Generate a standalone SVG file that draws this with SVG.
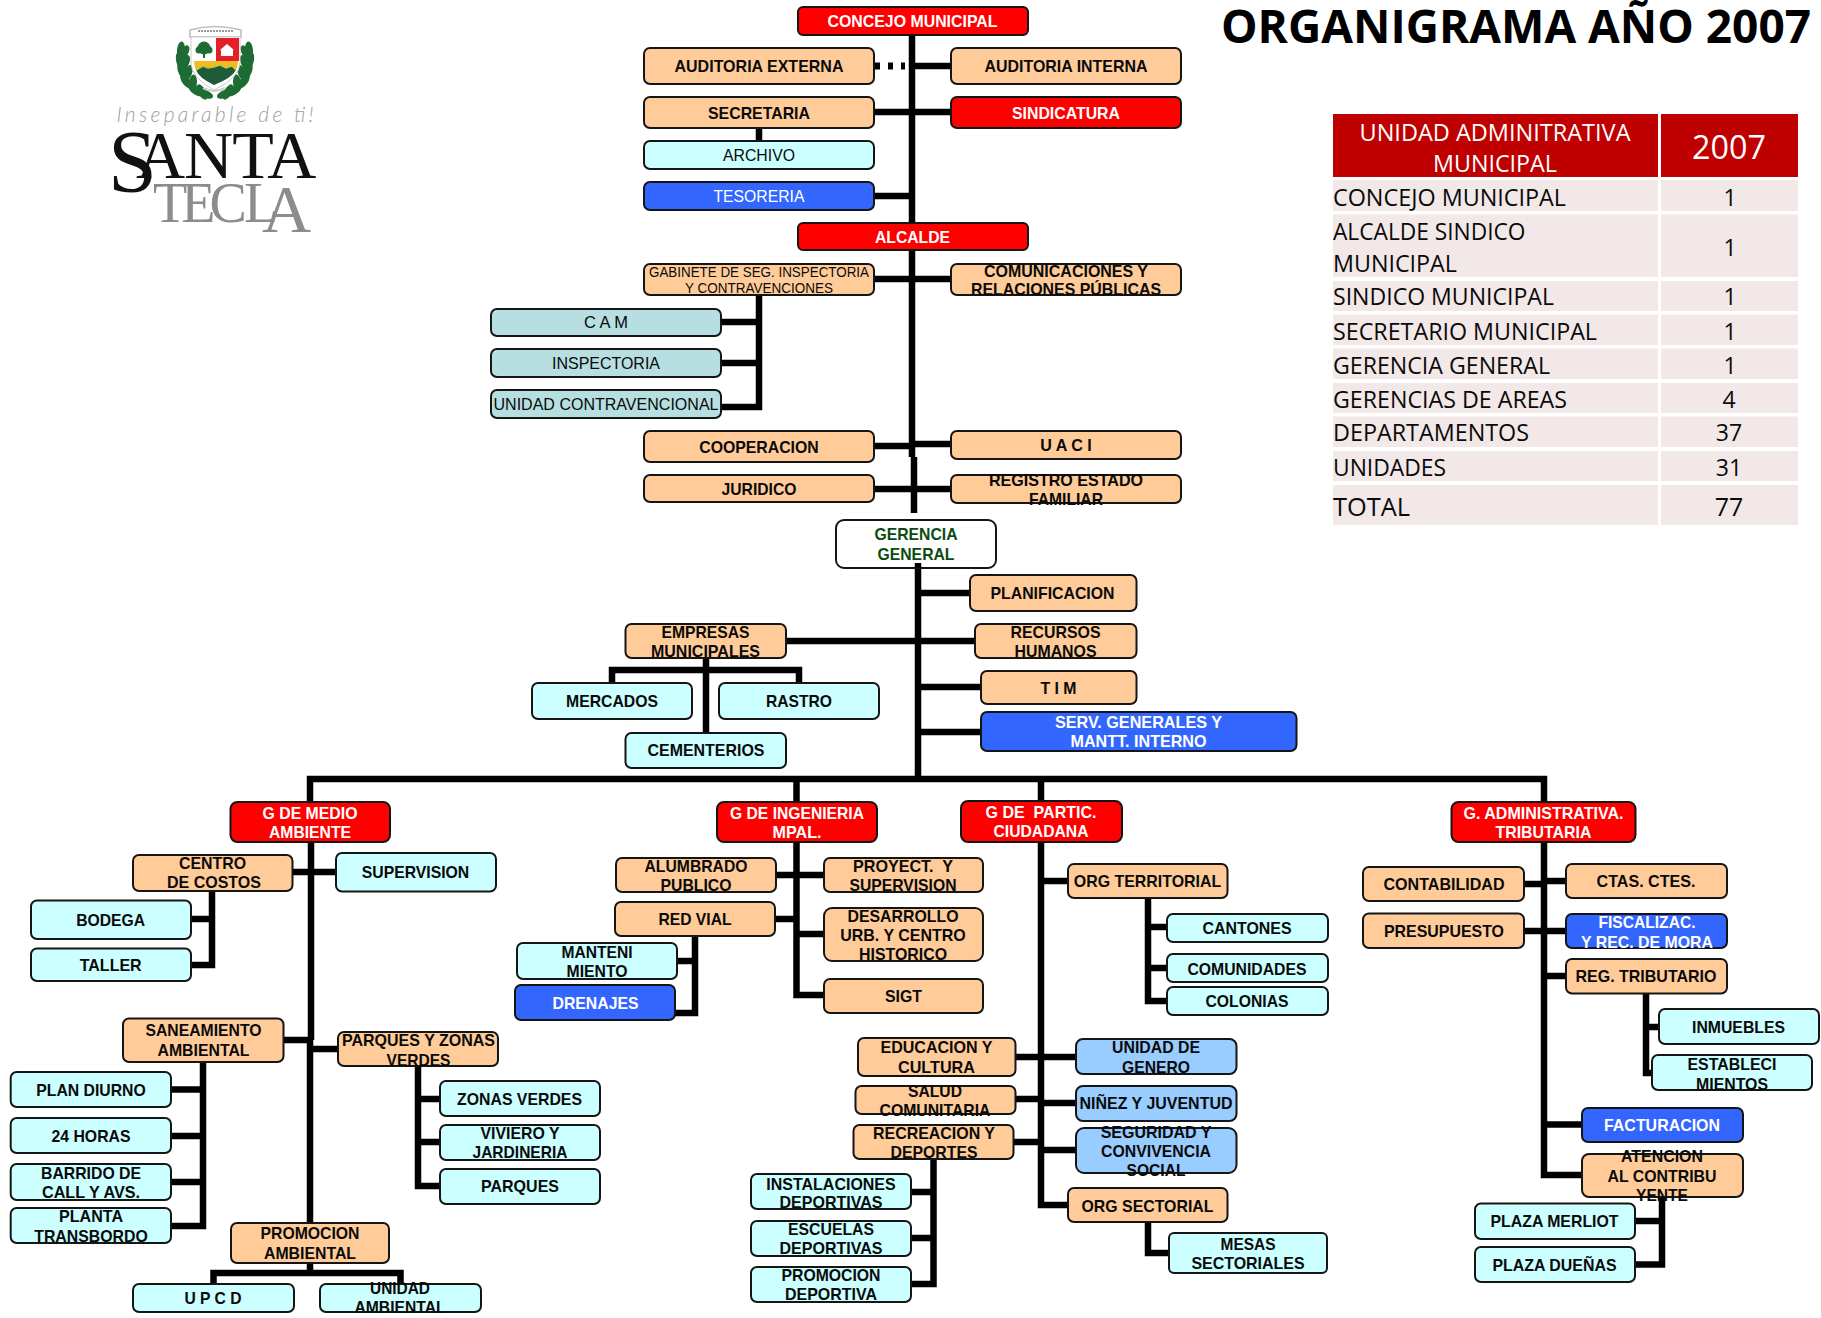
<svg xmlns="http://www.w3.org/2000/svg" width="1821" height="1318" viewBox="0 0 1821 1318">
<style>
.c{fill:none;stroke:#000;stroke-width:6.500}
.b{stroke:#151515;stroke-width:2}
.o{fill:#FFCC99}.y{fill:#CCFFFF}.u{fill:#3366FF}.d{fill:#FF0000}.g{fill:#B7DEE0}.l{fill:#99CCFF}.n{fill:#fff}
text{font-family:"Liberation Sans",Arial,sans-serif;font-size:17px;font-weight:bold;text-anchor:middle;fill:#0a0a0a}
text.w{fill:#fff}
text.r{font-weight:normal}
text.h{fill:#0B4A12}
text.k,text.kc{font-family:"Open Sans","Noto Sans",sans-serif;font-size:23px;font-weight:normal}
text.k{text-anchor:start}
text.kw{font-family:"Open Sans","Noto Sans",sans-serif;font-size:23px;font-weight:normal;fill:#fff}
.th{fill:#BF0000}.td{fill:#F2E8E8}
.lf{fill:#1E6B34}
</style>
<defs>
<ellipse id="leaf" cx="0" cy="0" rx="4" ry="8.500" class="lf"/>
</defs>
<rect width="1821" height="1318" fill="#fff"/>

<g id="connectors">
<path class="c" d="M912 35V223M912 250V457M914 457V513"/>
<path class="c" d="M914 66H951"/>
<path class="c" style="stroke-width:7;stroke-dasharray:5 8" d="M875 66H905"/>
<path class="c" d="M874 112H951"/>
<path class="c" d="M759 128V141"/>
<path class="c" d="M874 196H912"/>
<path class="c" d="M874 279H951"/>
<path class="c" d="M759 295V407H721M721 322H759M721 363H759"/>
<path class="c" d="M874 446H912M912 444H951"/>
<path class="c" d="M874 489H951"/>
<path class="c" d="M918 568V780"/>
<path class="c" d="M918 593H970"/>
<path class="c" d="M786 641H975"/>
<path class="c" d="M918 687H981"/>
<path class="c" d="M918 732H981"/>
<path class="c" d="M706 658V733"/>
<path class="c" d="M612 683V670H799V683"/>
<path class="c" d="M310 802V779H1544V802"/>
<path class="c" d="M796.500 779V802M1041 779V801"/>
<path class="c" d="M796.500 842V995H824"/>
<path class="c" d="M776 875H824"/>
<path class="c" d="M775 919H797"/>
<path class="c" d="M797 934H824"/>
<path class="c" d="M695 936V1013H675M677 961H695"/>
<path class="c" d="M1041 842V1205H1068"/>
<path class="c" d="M1041 881H1068"/>
<path class="c" d="M1148 898V1001H1167M1148 927H1168M1148 968H1168"/>
<path class="c" d="M1015 1057H1076"/>
<path class="c" d="M1015 1099H1041M1041 1103H1076"/>
<path class="c" d="M1013 1142H1041M1041 1150H1076"/>
<path class="c" d="M933.500 1159V1284H911M911 1192H933.500M911 1238H933.500"/>
<path class="c" d="M1148 1222V1253H1169"/>
<path class="c" d="M311 842V1040M310 1040V1223"/>
<path class="c" d="M292 872H336"/>
<path class="c" d="M212 891V965H191M191 919H212"/>
<path class="c" d="M283 1040H310M310 1049H338"/>
<path class="c" d="M203 1062V1226H171M171 1089.500H203M171 1136H203M171 1182H203"/>
<path class="c" d="M418 1066V1186H440M418 1099H440M418 1142H440"/>
<path class="c" d="M310 1263V1273M213.500 1284V1273H400.500V1284"/>
<path class="c" d="M1544 842V1175H1582"/>
<path class="c" d="M1524 884H1544M1544 881H1566"/>
<path class="c" d="M1524 931H1566"/>
<path class="c" d="M1544 976H1566"/>
<path class="c" d="M1544 1124.500H1582"/>
<path class="c" d="M1646 993V1073H1652M1646 1027H1659"/>
<path class="c" d="M1662 1197V1264.500H1635M1635 1221H1662"/>
</g>

<g id="logo">
<g id="crest">
<path d="M190 30Q215 23 241 30V37H190Z" fill="#fff" stroke="#bbb" stroke-width="1.500"/>
<path d="M198 31H233" stroke="#999" stroke-width="2" stroke-dasharray="2 1" fill="none"/>
<g>
<use href="#leaf" transform="translate(181,50) rotate(5)"/>
<use href="#leaf" transform="translate(184,53) rotate(30)"/>
<use href="#leaf" transform="translate(180,60) rotate(-10)"/>
<use href="#leaf" transform="translate(185,63) rotate(25)"/>
<use href="#leaf" transform="translate(182,71) rotate(-20)"/>
<use href="#leaf" transform="translate(188,73) rotate(20)"/>
<use href="#leaf" transform="translate(186,81) rotate(-35)"/>
<use href="#leaf" transform="translate(193,83) rotate(5)"/>
<use href="#leaf" transform="translate(195,90) rotate(-50)"/>
<use href="#leaf" transform="translate(202,92) rotate(-30)"/>
<use href="#leaf" transform="translate(205,94) rotate(-70)"/>
</g>
<g transform="translate(430,0) scale(-1,1)">
<use href="#leaf" transform="translate(181,50) rotate(5)"/>
<use href="#leaf" transform="translate(184,53) rotate(30)"/>
<use href="#leaf" transform="translate(180,60) rotate(-10)"/>
<use href="#leaf" transform="translate(185,63) rotate(25)"/>
<use href="#leaf" transform="translate(182,71) rotate(-20)"/>
<use href="#leaf" transform="translate(188,73) rotate(20)"/>
<use href="#leaf" transform="translate(186,81) rotate(-35)"/>
<use href="#leaf" transform="translate(193,83) rotate(5)"/>
<use href="#leaf" transform="translate(195,90) rotate(-50)"/>
<use href="#leaf" transform="translate(202,92) rotate(-30)"/>
<use href="#leaf" transform="translate(205,94) rotate(-70)"/>
</g>
<path d="M191 37H240V62Q240 78 214 90Q191 78 191 62Z" fill="#fff" stroke="#ccc" stroke-width="1"/>
<rect x="216" y="38" width="23" height="23" fill="#E3202A"/>
<path d="M220 50L227 44L234 50ZM221 50H233V56H221Z" fill="#fff"/>
<path d="M194 61H238Q238 66 236 70H196Q194 66 194 61Z" fill="#F5B921"/>
<path d="M196 70L203 66L208 68L214 67L220 65L226 68L232 66L236 70Q232 78 214 85Q199 78 196 70Z" fill="#1E5B36"/>
<path d="M196 70L203 66L208 68L214 67L220 65L226 68L232 66L236 70" fill="none" stroke="#B8C93A" stroke-width="1.500"/>
<circle cx="204" cy="48" r="6.500" class="lf"/><circle cx="199" cy="50" r="3.500" class="lf"/><circle cx="209" cy="50" r="3.500" class="lf"/>
<rect x="203" y="50" width="2" height="8" class="lf"/>
<path d="M203 88Q214 94 225 88" fill="none" stroke="#ccc" stroke-width="2"/>
</g>
<text id="lema" x="215" y="122" textLength="197" lengthAdjust="spacing" style="font-family:Lato,'Noto Sans',sans-serif;font-style:italic;font-weight:300;font-size:21px;fill:#a0a0a0">Inseparable de ti!</text>
<text id="santa" style="font-family:'Liberation Serif',serif;font-weight:normal;text-anchor:start;fill:#111"><tspan x="108" y="191" font-size="88">S</tspan><tspan x="136" y="178" font-size="68" letter-spacing="-1">ANTA</tspan></text>
<text id="tecla" style="font-family:'Liberation Serif',serif;font-weight:normal;text-anchor:start;fill:#8c8c8c"><tspan x="153" y="222" font-size="56" letter-spacing="-6">TEC</tspan><tspan x="244" y="222" font-size="56">L</tspan><tspan x="262" y="232" font-size="68">A</tspan></text>
</g>

<g id="titulo"><text x="1516" y="43" textLength="590" lengthAdjust="spacingAndGlyphs" style="font-family:'Open Sans','Noto Sans',sans-serif;font-size:46px;font-weight:bold;fill:#000">ORGANIGRAMA AÑO 2007</text></g>

<g id="tabla">
<rect class="th" x="1333" y="114" width="325" height="63"/><rect class="th" x="1661" y="114" width="137" height="63"/>
<rect class="td" x="1333" y="180" width="325" height="31"/><rect class="td" x="1661" y="180" width="137" height="31"/>
<rect class="td" x="1333" y="214.500" width="325" height="62.500"/><rect class="td" x="1661" y="214.500" width="137" height="62.500"/>
<rect class="td" x="1333" y="281" width="325" height="30"/><rect class="td" x="1661" y="281" width="137" height="30"/>
<rect class="td" x="1333" y="314.500" width="325" height="30.500"/><rect class="td" x="1661" y="314.500" width="137" height="30.500"/>
<rect class="td" x="1333" y="348.500" width="325" height="30.500"/><rect class="td" x="1661" y="348.500" width="137" height="30.500"/>
<rect class="td" x="1333" y="383" width="325" height="30"/><rect class="td" x="1661" y="383" width="137" height="30"/>
<rect class="td" x="1333" y="416.500" width="325" height="30.500"/><rect class="td" x="1661" y="416.500" width="137" height="30.500"/>
<rect class="td" x="1333" y="451" width="325" height="30"/><rect class="td" x="1661" y="451" width="137" height="30"/>
<rect class="td" x="1333" y="485" width="325" height="40"/><rect class="td" x="1661" y="485" width="137" height="40"/>
<text class="kw" x="1495" y="141" textLength="271" lengthAdjust="spacingAndGlyphs">UNIDAD ADMINITRATIVA</text>
<text class="kw" x="1495" y="172" textLength="124" lengthAdjust="spacingAndGlyphs">MUNICIPAL</text>
<text class="kw" x="1729" y="159" style="font-size:32px" textLength="74" lengthAdjust="spacingAndGlyphs">2007</text>
<text class="k" x="1333" y="206" textLength="233" lengthAdjust="spacingAndGlyphs">CONCEJO MUNICIPAL</text>
<text class="k" x="1333" y="240" textLength="192.500" lengthAdjust="spacingAndGlyphs">ALCALDE SINDICO</text>
<text class="k" x="1333" y="272" textLength="124" lengthAdjust="spacingAndGlyphs">MUNICIPAL</text>
<text class="k" x="1333" y="305" textLength="221" lengthAdjust="spacingAndGlyphs">SINDICO MUNICIPAL</text>
<text class="k" x="1333" y="340" textLength="264" lengthAdjust="spacingAndGlyphs">SECRETARIO MUNICIPAL</text>
<text class="k" x="1333" y="374" textLength="217" lengthAdjust="spacingAndGlyphs">GERENCIA GENERAL</text>
<text class="k" x="1333" y="408" textLength="234" lengthAdjust="spacingAndGlyphs">GERENCIAS DE AREAS</text>
<text class="k" x="1333" y="441" textLength="196" lengthAdjust="spacingAndGlyphs">DEPARTAMENTOS</text>
<text class="k" x="1333" y="476" textLength="113" lengthAdjust="spacingAndGlyphs">UNIDADES</text>
<text class="k" x="1333" y="516" style="font-size:25px" textLength="77" lengthAdjust="spacingAndGlyphs">TOTAL</text>
<text class="kc" x="1730" y="206">1</text>
<text class="kc" x="1730" y="256">1</text>
<text class="kc" x="1730" y="305">1</text>
<text class="kc" x="1730" y="340">1</text>
<text class="kc" x="1730" y="374">1</text>
<text class="kc" x="1729" y="408">4</text>
<text class="kc" x="1729" y="441">37</text>
<text class="kc" x="1729" y="476">31</text>
<text class="kc" x="1729" y="516" style="font-size:25px">77</text>
</g>

<g id="concejo-municipal"><rect class="b d" x="798" y="7" width="230" height="28" rx="5"/><text class="w" x="912.500" y="27" textLength="170" lengthAdjust="spacingAndGlyphs">CONCEJO MUNICIPAL</text></g>
<g id="auditoria-externa"><rect class="b o" x="644" y="48" width="230" height="36" rx="6"/><text x="759" y="72" textLength="169" lengthAdjust="spacingAndGlyphs">AUDITORIA EXTERNA</text></g>
<g id="auditoria-interna"><rect class="b o" x="951" y="48" width="230" height="36" rx="6"/><text x="1066" y="72" textLength="163" lengthAdjust="spacingAndGlyphs">AUDITORIA INTERNA</text></g>
<g id="secretaria"><rect class="b o" x="644" y="97" width="230" height="31" rx="6"/><text x="759" y="119" textLength="102" lengthAdjust="spacingAndGlyphs">SECRETARIA</text></g>
<g id="sindicatura"><rect class="b d" x="951" y="97" width="230" height="31" rx="6"/><text class="w" x="1066" y="119" textLength="108" lengthAdjust="spacingAndGlyphs">SINDICATURA</text></g>
<g id="archivo"><rect class="b y" x="644" y="141" width="230" height="28" rx="6"/><text class="r" x="759" y="161" textLength="72" lengthAdjust="spacingAndGlyphs">ARCHIVO</text></g>
<g id="tesoreria"><rect class="b u" x="644" y="182" width="230" height="28" rx="6"/><text class="r w" x="759" y="202" textLength="91" lengthAdjust="spacingAndGlyphs">TESORERIA</text></g>
<g id="alcalde"><rect class="b d" x="798" y="223" width="230" height="27" rx="5"/><text class="w" x="912.500" y="243" textLength="75" lengthAdjust="spacingAndGlyphs">ALCALDE</text></g>
<g id="gabinete"><rect class="b o" x="644" y="264" width="230" height="31" rx="6"/><text class="r" x="759" y="277" style="font-size:15px" textLength="220" lengthAdjust="spacingAndGlyphs">GABINETE DE SEG. INSPECTORIA</text><text class="r" x="759" y="293" style="font-size:15px" textLength="148" lengthAdjust="spacingAndGlyphs">Y CONTRAVENCIONES</text></g>
<g id="comunicaciones"><rect class="b o" x="951" y="264" width="230" height="31" rx="6"/><text x="1066" y="276.500" textLength="164" lengthAdjust="spacingAndGlyphs">COMUNICACIONES Y</text><text x="1066" y="295" textLength="190" lengthAdjust="spacingAndGlyphs">RELACIONES PÚBLICAS</text></g>
<g id="cam"><rect class="b g" x="491" y="309" width="230" height="27" rx="6"/><text class="r" x="606" y="328" textLength="44" lengthAdjust="spacingAndGlyphs">C A M</text></g>
<g id="inspectoria"><rect class="b g" x="491" y="349" width="230" height="28" rx="6"/><text class="r" x="606" y="369" textLength="108" lengthAdjust="spacingAndGlyphs">INSPECTORIA</text></g>
<g id="unidad-contravencional"><rect class="b g" x="491" y="390" width="230" height="28" rx="6"/><text class="r" x="606" y="410" textLength="225" lengthAdjust="spacingAndGlyphs">UNIDAD CONTRAVENCIONAL</text></g>
<g id="cooperacion"><rect class="b o" x="644" y="431" width="230" height="31" rx="6"/><text x="759" y="453" textLength="119.500" lengthAdjust="spacingAndGlyphs">COOPERACION</text></g>
<g id="uaci"><rect class="b o" x="951" y="431" width="230" height="28" rx="6"/><text x="1066" y="451" textLength="51.500" lengthAdjust="spacingAndGlyphs">U A C I</text></g>
<g id="juridico"><rect class="b o" x="644" y="475" width="230" height="27" rx="6"/><text x="759" y="495" textLength="75" lengthAdjust="spacingAndGlyphs">JURIDICO</text></g>
<g id="registro"><rect class="b o" x="951" y="475" width="230" height="28" rx="6"/><text x="1066" y="486" textLength="154" lengthAdjust="spacingAndGlyphs">REGISTRO ESTADO</text><text x="1066" y="505" textLength="74" lengthAdjust="spacingAndGlyphs">FAMILIAR</text></g>

<g id="gerencia-general"><rect class="b n" x="836" y="520" width="160" height="48" rx="8"/><path class="c" d="M918 563V568"/><text class="h" x="916" y="540" textLength="83" lengthAdjust="spacingAndGlyphs">GERENCIA</text><text class="h" x="916" y="560" textLength="77" lengthAdjust="spacingAndGlyphs">GENERAL</text></g>
<g id="planificacion"><rect class="b o" x="970" y="575" width="166.500" height="36" rx="6"/><text x="1052.500" y="599" textLength="124" lengthAdjust="spacingAndGlyphs">PLANIFICACION</text></g>
<g id="recursos-humanos"><rect class="b o" x="975" y="624" width="161.500" height="34" rx="6"/><text x="1055.500" y="638" textLength="90" lengthAdjust="spacingAndGlyphs">RECURSOS</text><text x="1055.500" y="657" textLength="82" lengthAdjust="spacingAndGlyphs">HUMANOS</text></g>
<g id="empresas-municipales"><rect class="b o" x="625.500" y="624" width="160.500" height="34" rx="6"/><text x="705.500" y="638" textLength="88" lengthAdjust="spacingAndGlyphs">EMPRESAS</text><text x="705.500" y="657" textLength="109" lengthAdjust="spacingAndGlyphs">MUNICIPALES</text></g>
<g id="tim"><rect class="b o" x="981" y="671" width="155.500" height="33" rx="6"/><text x="1058.500" y="694" textLength="36" lengthAdjust="spacingAndGlyphs">T I M</text></g>
<g id="serv-generales"><rect class="b u" x="981" y="712" width="315.500" height="39" rx="6"/><text class="w" x="1138.500" y="728" textLength="167" lengthAdjust="spacingAndGlyphs">SERV. GENERALES Y</text><text class="w" x="1138.500" y="747" textLength="136" lengthAdjust="spacingAndGlyphs">MANTT. INTERNO</text></g>
<g id="mercados"><rect class="b y" x="532" y="683" width="160" height="36" rx="6"/><text x="612" y="707" textLength="92" lengthAdjust="spacingAndGlyphs">MERCADOS</text></g>
<g id="rastro"><rect class="b y" x="719" y="683" width="160" height="36" rx="6"/><text x="799" y="707" textLength="66" lengthAdjust="spacingAndGlyphs">RASTRO</text></g>
<g id="cementerios"><rect class="b y" x="625.500" y="733" width="160.500" height="35" rx="6"/><text x="706" y="756" textLength="117" lengthAdjust="spacingAndGlyphs">CEMENTERIOS</text></g>

<g id="g-medio-ambiente"><rect class="b d" x="230.500" y="802" width="159.500" height="40" rx="7"/><text class="w" x="310" y="819" textLength="95" lengthAdjust="spacingAndGlyphs">G DE MEDIO</text><text class="w" x="310" y="838" textLength="82" lengthAdjust="spacingAndGlyphs">AMBIENTE</text></g>
<g id="centro-costos"><rect class="b o" x="133" y="855" width="159.500" height="36" rx="6"/><text x="212.500" y="869" textLength="67" lengthAdjust="spacingAndGlyphs">CENTRO</text><text x="214" y="888" textLength="94" lengthAdjust="spacingAndGlyphs">DE COSTOS</text></g>
<g id="supervision"><rect class="b y" x="336" y="853" width="160" height="38.500" rx="6"/><text x="415.500" y="878" textLength="107.500" lengthAdjust="spacingAndGlyphs">SUPERVISION</text></g>
<g id="bodega"><rect class="b y" x="31" y="900.500" width="160" height="38.500" rx="6"/><text x="110.700" y="926" textLength="69" lengthAdjust="spacingAndGlyphs">BODEGA</text></g>
<g id="taller"><rect class="b y" x="31" y="948.500" width="160" height="32.500" rx="6"/><text x="110.700" y="971" textLength="62" lengthAdjust="spacingAndGlyphs">TALLER</text></g>
<g id="saneamiento"><rect class="b o" x="123" y="1018.500" width="160.500" height="43.500" rx="6"/><text x="203.500" y="1036" textLength="116" lengthAdjust="spacingAndGlyphs">SANEAMIENTO</text><text x="203.500" y="1056" textLength="92" lengthAdjust="spacingAndGlyphs">AMBIENTAL</text></g>
<g id="parques-zonas"><rect class="b o" x="338" y="1032" width="160" height="34" rx="6"/><text x="418.500" y="1046" textLength="153" lengthAdjust="spacingAndGlyphs">PARQUES Y ZONAS</text><text x="418.500" y="1065.500" textLength="64" lengthAdjust="spacingAndGlyphs">VERDES</text></g>
<g id="plan-diurno"><rect class="b y" x="10.700" y="1072" width="160.300" height="35" rx="6"/><text x="91" y="1096" textLength="109.500" lengthAdjust="spacingAndGlyphs">PLAN DIURNO</text></g>
<g id="h24"><rect class="b y" x="10.700" y="1118" width="160.300" height="35" rx="6"/><text x="91" y="1142" textLength="79" lengthAdjust="spacingAndGlyphs">24 HORAS</text></g>
<g id="barrido"><rect class="b y" x="10.700" y="1164" width="160.300" height="36" rx="6"/><text x="91" y="1179" textLength="100" lengthAdjust="spacingAndGlyphs">BARRIDO DE</text><text x="91" y="1198" textLength="98" lengthAdjust="spacingAndGlyphs">CALL Y AVS.</text></g>
<g id="planta"><rect class="b y" x="10.700" y="1208" width="160.300" height="35" rx="6"/><text x="91" y="1222" textLength="64" lengthAdjust="spacingAndGlyphs">PLANTA</text><text x="91" y="1242" textLength="113.500" lengthAdjust="spacingAndGlyphs">TRANSBORDO</text></g>
<g id="zonas-verdes"><rect class="b y" x="440" y="1081" width="160" height="35" rx="6"/><text x="519.500" y="1105" textLength="125" lengthAdjust="spacingAndGlyphs">ZONAS VERDES</text></g>
<g id="viviero"><rect class="b y" x="440" y="1125" width="160" height="35" rx="6"/><text x="520" y="1138.500" textLength="79" lengthAdjust="spacingAndGlyphs">VIVIERO Y</text><text x="520" y="1158" textLength="95" lengthAdjust="spacingAndGlyphs">JARDINERIA</text></g>
<g id="parques"><rect class="b y" x="440" y="1169" width="160" height="35" rx="6"/><text x="520" y="1192" textLength="78" lengthAdjust="spacingAndGlyphs">PARQUES</text></g>
<g id="promocion-ambiental"><rect class="b o" x="231" y="1223" width="158" height="40" rx="6"/><text x="310" y="1239" textLength="99" lengthAdjust="spacingAndGlyphs">PROMOCION</text><text x="310" y="1259" textLength="92" lengthAdjust="spacingAndGlyphs">AMBIENTAL</text></g>
<g id="upcd"><rect class="b y" x="133" y="1284" width="161" height="28" rx="6"/><text x="213" y="1304" textLength="57" lengthAdjust="spacingAndGlyphs">U P C D</text></g>
<g id="unidad-ambiental"><rect class="b y" x="320" y="1284" width="161" height="28" rx="6"/><text x="400" y="1294" textLength="60" lengthAdjust="spacingAndGlyphs">UNIDAD</text><text x="400" y="1313" textLength="91" lengthAdjust="spacingAndGlyphs">AMBIENTAL</text></g>

<g id="g-ingenieria"><rect class="b d" x="717" y="802" width="160" height="40" rx="7"/><text class="w" x="797" y="819" textLength="134" lengthAdjust="spacingAndGlyphs">G DE INGENIERIA</text><text class="w" x="797" y="838" textLength="49" lengthAdjust="spacingAndGlyphs">MPAL.</text></g>
<g id="alumbrado"><rect class="b o" x="616" y="858" width="160" height="34" rx="6"/><text x="696" y="872" textLength="103" lengthAdjust="spacingAndGlyphs">ALUMBRADO</text><text x="696" y="891" textLength="71" lengthAdjust="spacingAndGlyphs">PUBLICO</text></g>
<g id="proyect"><rect class="b o" x="824" y="858" width="159" height="34" rx="6"/><text x="903" y="872" textLength="100" lengthAdjust="spacingAndGlyphs" xml:space="preserve">PROYECT.  Y</text><text x="903" y="891" textLength="107" lengthAdjust="spacingAndGlyphs">SUPERVISION</text></g>
<g id="red-vial"><rect class="b o" x="615" y="902" width="160" height="34" rx="6"/><text x="695" y="925" textLength="73" lengthAdjust="spacingAndGlyphs">RED VIAL</text></g>
<g id="desarrollo"><rect class="b o" x="824" y="908" width="159" height="53" rx="8"/><text x="903" y="922" textLength="111" lengthAdjust="spacingAndGlyphs">DESARROLLO</text><text x="903" y="941" textLength="125.500" lengthAdjust="spacingAndGlyphs">URB. Y CENTRO</text><text x="903" y="960" textLength="88" lengthAdjust="spacingAndGlyphs">HISTORICO</text></g>
<g id="mantenimiento"><rect class="b y" x="517" y="943" width="160" height="36" rx="6"/><text x="597" y="958" textLength="71" lengthAdjust="spacingAndGlyphs">MANTENI</text><text x="597" y="977" textLength="61" lengthAdjust="spacingAndGlyphs">MIENTO</text></g>
<g id="drenajes"><rect class="b u" x="515" y="985" width="160" height="35" rx="6"/><text class="w" x="595.500" y="1009" textLength="86" lengthAdjust="spacingAndGlyphs">DRENAJES</text></g>
<g id="sigt"><rect class="b o" x="824" y="979" width="159" height="34" rx="6"/><text x="903.500" y="1002" textLength="37" lengthAdjust="spacingAndGlyphs">SIGT</text></g>

<g id="g-partic"><rect class="b d" x="961" y="801" width="161" height="41" rx="7"/><text class="w" x="1041" y="818" textLength="111" lengthAdjust="spacingAndGlyphs" xml:space="preserve">G DE  PARTIC.</text><text class="w" x="1041" y="837" textLength="95" lengthAdjust="spacingAndGlyphs">CIUDADANA</text></g>
<g id="org-territorial"><rect class="b o" x="1068" y="864" width="159.500" height="34" rx="6"/><text x="1147.500" y="887" textLength="147.500" lengthAdjust="spacingAndGlyphs">ORG TERRITORIAL</text></g>
<g id="cantones"><rect class="b y" x="1167" y="914" width="161" height="28" rx="6"/><text x="1247" y="934" textLength="89" lengthAdjust="spacingAndGlyphs">CANTONES</text></g>
<g id="comunidades"><rect class="b y" x="1167" y="954" width="161" height="28" rx="6"/><text x="1247" y="975" textLength="119" lengthAdjust="spacingAndGlyphs">COMUNIDADES</text></g>
<g id="colonias"><rect class="b y" x="1167" y="987" width="161" height="28" rx="6"/><text x="1247" y="1007" textLength="83" lengthAdjust="spacingAndGlyphs">COLONIAS</text></g>
<g id="educacion"><rect class="b o" x="858" y="1038" width="157.500" height="38" rx="6"/><text x="936.500" y="1053" textLength="112" lengthAdjust="spacingAndGlyphs">EDUCACION Y</text><text x="936.500" y="1073" textLength="77" lengthAdjust="spacingAndGlyphs">CULTURA</text></g>
<g id="unidad-genero"><rect class="b l" x="1076" y="1039" width="160.500" height="35" rx="7"/><text x="1156" y="1053" textLength="88" lengthAdjust="spacingAndGlyphs">UNIDAD DE</text><text x="1156" y="1073" textLength="68" lengthAdjust="spacingAndGlyphs">GENERO</text></g>
<g id="salud"><rect class="b o" x="855.500" y="1086" width="160" height="28" rx="6"/><text x="935" y="1096.500" textLength="54" lengthAdjust="spacingAndGlyphs">SALUD</text><text x="935" y="1116" textLength="111" lengthAdjust="spacingAndGlyphs">COMUNITARIA</text></g>
<g id="ninez"><rect class="b l" x="1076" y="1086" width="160.500" height="35" rx="7"/><text x="1156" y="1109" textLength="153" lengthAdjust="spacingAndGlyphs">NIÑEZ Y JUVENTUD</text></g>
<g id="recreacion"><rect class="b o" x="853.500" y="1125" width="160" height="34" rx="6"/><text x="934" y="1139" textLength="122" lengthAdjust="spacingAndGlyphs">RECREACION Y</text><text x="934" y="1158" textLength="87" lengthAdjust="spacingAndGlyphs">DEPORTES</text></g>
<g id="seguridad"><rect class="b l" x="1076" y="1128" width="160.500" height="45" rx="8"/><text x="1156" y="1137.500" textLength="110.600" lengthAdjust="spacingAndGlyphs">SEGURIDAD Y</text><text x="1156" y="1157" textLength="110" lengthAdjust="spacingAndGlyphs">CONVIVENCIA</text><text x="1156" y="1176" textLength="59" lengthAdjust="spacingAndGlyphs">SOCIAL</text></g>
<g id="org-sectorial"><rect class="b o" x="1068" y="1188" width="159.500" height="34" rx="6"/><text x="1147.500" y="1212" textLength="132" lengthAdjust="spacingAndGlyphs">ORG SECTORIAL</text></g>
<g id="mesas"><rect class="b y" x="1169" y="1233" width="158" height="40" rx="5"/><text x="1248" y="1250" textLength="55" lengthAdjust="spacingAndGlyphs">MESAS</text><text x="1248" y="1269" textLength="113" lengthAdjust="spacingAndGlyphs">SECTORIALES</text></g>
<g id="instalaciones"><rect class="b y" x="751" y="1174" width="160" height="35" rx="6"/><text x="831" y="1189.500" textLength="129.400" lengthAdjust="spacingAndGlyphs">INSTALACIONES</text><text x="831" y="1208" textLength="103" lengthAdjust="spacingAndGlyphs">DEPORTIVAS</text></g>
<g id="escuelas"><rect class="b y" x="751" y="1221" width="160" height="35" rx="6"/><text x="831" y="1235" textLength="86" lengthAdjust="spacingAndGlyphs">ESCUELAS</text><text x="831" y="1254" textLength="103" lengthAdjust="spacingAndGlyphs">DEPORTIVAS</text></g>
<g id="promocion-deportiva"><rect class="b y" x="751" y="1267" width="160" height="35" rx="6"/><text x="831" y="1281" textLength="99" lengthAdjust="spacingAndGlyphs">PROMOCION</text><text x="831" y="1300" textLength="92" lengthAdjust="spacingAndGlyphs">DEPORTIVA</text></g>

<g id="g-administrativa"><rect class="b d" x="1451.500" y="802" width="184" height="40" rx="7"/><text class="w" x="1543.500" y="819" textLength="160" lengthAdjust="spacingAndGlyphs">G. ADMINISTRATIVA.</text><text class="w" x="1543.500" y="838" textLength="96" lengthAdjust="spacingAndGlyphs">TRIBUTARIA</text></g>
<g id="contabilidad"><rect class="b o" x="1363" y="867" width="161" height="34" rx="6"/><text x="1444" y="890" textLength="121" lengthAdjust="spacingAndGlyphs">CONTABILIDAD</text></g>
<g id="ctas"><rect class="b o" x="1566" y="864" width="161" height="34" rx="6"/><text x="1646" y="887" textLength="99" lengthAdjust="spacingAndGlyphs">CTAS. CTES.</text></g>
<g id="presupuesto"><rect class="b o" x="1363" y="913.500" width="161" height="34.500" rx="6"/><text x="1444" y="937" textLength="120" lengthAdjust="spacingAndGlyphs">PRESUPUESTO</text></g>
<g id="fiscalizac"><rect class="b u" x="1566" y="914" width="161" height="34" rx="6"/><text class="w" x="1647" y="927.500" textLength="97" lengthAdjust="spacingAndGlyphs">FISCALIZAC.</text><text class="w" x="1647" y="947.500" textLength="132" lengthAdjust="spacingAndGlyphs">Y REC. DE MORA</text></g>
<g id="reg-tributario"><rect class="b o" x="1566" y="959" width="161" height="34.500" rx="6"/><text x="1646" y="982" textLength="141" lengthAdjust="spacingAndGlyphs">REG. TRIBUTARIO</text></g>
<g id="inmuebles"><rect class="b y" x="1659" y="1009" width="160" height="35" rx="6"/><text x="1738.500" y="1033" textLength="93" lengthAdjust="spacingAndGlyphs">INMUEBLES</text></g>
<g id="establecimientos"><rect class="b y" x="1652" y="1055" width="160" height="35" rx="6"/><text x="1732" y="1069.600" textLength="89" lengthAdjust="spacingAndGlyphs">ESTABLECI</text><text x="1732" y="1090" textLength="72" lengthAdjust="spacingAndGlyphs">MIENTOS</text></g>
<g id="facturacion"><rect class="b u" x="1582" y="1108" width="161" height="34" rx="6"/><text class="w" x="1662" y="1131" textLength="116" lengthAdjust="spacingAndGlyphs">FACTURACION</text></g>
<g id="atencion"><rect class="b o" x="1582" y="1154" width="161" height="43" rx="7"/><text x="1662" y="1162" textLength="82" lengthAdjust="spacingAndGlyphs">ATENCION</text><text x="1662" y="1181.500" textLength="109" lengthAdjust="spacingAndGlyphs">AL CONTRIBU</text><text x="1662" y="1201" textLength="52" lengthAdjust="spacingAndGlyphs">YENTE</text></g>
<g id="plaza-merliot"><rect class="b y" x="1475" y="1203.500" width="160" height="35.500" rx="6"/><text x="1554.500" y="1227" textLength="128" lengthAdjust="spacingAndGlyphs">PLAZA MERLIOT</text></g>
<g id="plaza-duenas"><rect class="b y" x="1475" y="1247" width="160" height="35" rx="6"/><text x="1554.500" y="1271" textLength="124" lengthAdjust="spacingAndGlyphs">PLAZA DUEÑAS</text></g>
</svg>
